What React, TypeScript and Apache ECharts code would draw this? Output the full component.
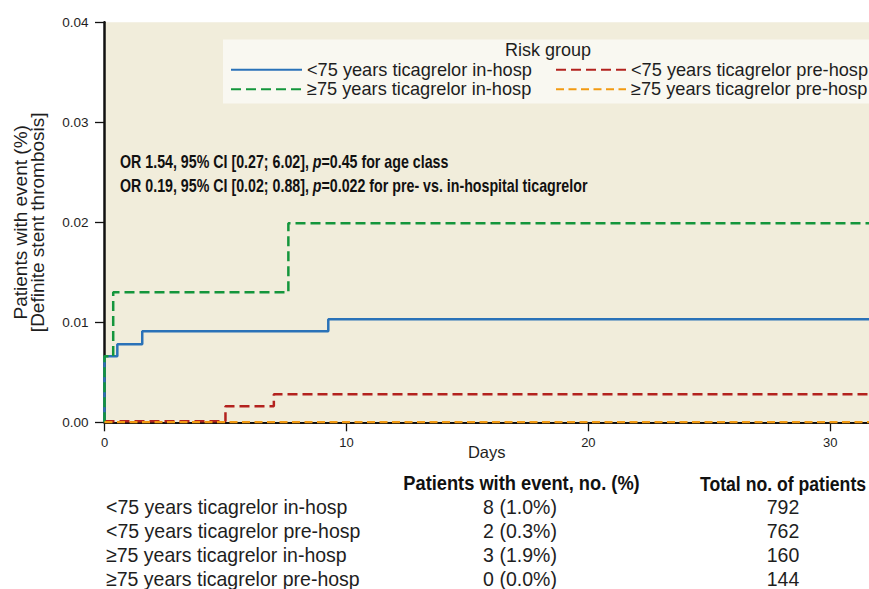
import React, { useEffect, useRef } from "react";
import * as echarts from "echarts";

const SANS = '"Liberation Sans", Arial, sans-serif';

const SERIES_NAMES = [
  "<75 years ticagrelor in-hosp",
  "<75 years ticagrelor pre-hosp",
  "≥75 years ticagrelor in-hosp",
  "≥75 years ticagrelor pre-hosp",
];
const SERIES_COLORS = ["#2a72b8", "#b3221e", "#14963c", "#f29a12"];

// Kaplan–Meier step points (days, cumulative incidence)
const BLUE_DAYS = [0, 0, 0.53, 1.56, 9.25, 31.6];
const BLUE_VALS = [0, 0.0066, 0.0078, 0.0091, 0.0103, 0.0103];
const RED_DAYS = [0, 5.0, 7.0, 31.6];
const RED_VALS = [0.0001, 0.0016, 0.0028, 0.0028];
const GREEN_DAYS = [0, 0, 0.36, 7.6, 31.6];
const GREEN_VALS = [0, 0.0066, 0.013, 0.0199, 0.0199];
const ORANGE_DAYS = [0, 31.6];
const ORANGE_VALS = [0, 0];

const X_TICKS = [0, 10, 20, 30];
const Y_TICKS = [0, 0.01, 0.02, 0.03, 0.04];

const ANNOT_1 = ["OR 1.54, 95% CI [0.27; 6.02], ", "p", "=0.45 for age class"];
const ANNOT_2 = ["OR 0.19, 95% CI [0.02; 0.88], ", "p", "=0.022 for pre- vs. in-hospital ticagrelor"];

const TABLE_HEAD = ["Patients with event, no. (%)", "Total no. of patients"];
const TABLE_EVENTS = ["8 (1.0%)", "2 (0.3%)", "3 (1.9%)", "0 (0.0%)"];
const TABLE_TOTALS = ["792", "762", "160", "144"];

function zip(xs: number[], ys: number[]) {
  return xs.map((x, i) => [x, ys[i]]);
}

export default function App() {
  const ref = useRef<HTMLDivElement>(null);
  useEffect(() => {
    if (!ref.current) return;
    const chart = echarts.init(ref.current, undefined, { renderer: "svg" });
    const datas = [
      zip(BLUE_DAYS, BLUE_VALS),
      zip(RED_DAYS, RED_VALS),
      zip(GREEN_DAYS, GREEN_VALS),
      zip(ORANGE_DAYS, ORANGE_VALS),
    ];
    const dashes: any[] = ["solid", [10, 5], [10, 5], [8, 4.5]];
    const order = [2, 0, 1, 3];
    const series = order.map((i) => ({
      name: SERIES_NAMES[i],
      type: "line",
      step: "end",
      data: datas[i],
      symbol: "none",
      z: 3 + i,
      lineStyle: { color: SERIES_COLORS[i], width: 2.5, type: dashes[i] },
      itemStyle: { color: SERIES_COLORS[i] },
    }));

    const TXT = "#1e1e1e";
    const graphics: any[] = [
      {
        type: "rect",
        shape: { x: 223, y: 39.5, width: 660, height: 64 },
        style: { fill: "#f9f8f1" },
        z: 1,
      },
      {
        type: "text",
        x: 548,
        y: 50,
        z: 10,
        style: { text: "Risk group", font: `18px ${SANS}`, fill: TXT, align: "center", verticalAlign: "middle" },
      },
    ];
    const mkRich = (parts: string[], y: number) => ({
      type: "text",
      x: 120,
      y,
      z: 10,
      scaleX: 0.79,
      style: {
        text: `{b|${parts[0]}}{i|${parts[1]}}{b|${parts[2]}}`,
        verticalAlign: "middle",
        rich: {
          b: { fontFamily: SANS, fontWeight: "bold", fontSize: 18, fill: "#111" },
          i: { fontFamily: SANS, fontWeight: "bold", fontStyle: "italic", fontSize: 18, fill: "#111" },
        },
      },
    });
    graphics.push(mkRich(ANNOT_1, 161.5), mkRich(ANNOT_2, 185.5));
    graphics.push(
      {
        type: "text",
        x: 521.5,
        y: 483,
        scaleX: 0.87,
        style: { text: TABLE_HEAD[0], font: `bold 21px ${SANS}`, fill: "#111", align: "center", verticalAlign: "middle" },
      },
      {
        type: "text",
        x: 783,
        y: 483,
        scaleX: 0.84,
        style: { text: TABLE_HEAD[1], font: `bold 21px ${SANS}`, fill: "#111", align: "center", verticalAlign: "middle" },
      }
    );
    SERIES_NAMES.forEach((n, i) => {
      const y = 507 + i * 23.8;
      graphics.push(
        { type: "text", x: 106, y, scaleX: 0.93, style: { text: n, font: `21px ${SANS}`, fill: TXT, verticalAlign: "middle" } },
        { type: "text", x: 520, y, scaleX: 0.93, style: { text: TABLE_EVENTS[i], font: `21px ${SANS}`, fill: TXT, align: "center", verticalAlign: "middle" } },
        { type: "text", x: 783, y, scaleX: 0.93, style: { text: TABLE_TOTALS[i], font: `21px ${SANS}`, fill: TXT, align: "center", verticalAlign: "middle" } }
      );
    });

    const legendCommon = {
      orient: "vertical",
      top: 60,
      itemHeight: 14,
      itemGap: 0,
      padding: 0,
      itemStyle: { opacity: 0 },
      textStyle: { fontFamily: SANS, fontSize: 18.2, color: TXT, lineHeight: 19.5 },
      z: 10,
    };

    chart.setOption({
      animation: false,
      backgroundColor: "#ffffff",
      grid: {
        left: 104.5,
        top: 22.3,
        right: 0,
        bottom: 166.7,
        show: true,
        backgroundColor: "#f1eddb",
        borderWidth: 0,
        containLabel: false,
        outerBoundsMode: "none",
      },
      legend: [
        { ...legendCommon, left: 230, itemWidth: 71, data: [SERIES_NAMES[0], SERIES_NAMES[2]] },
        { ...legendCommon, left: 555, itemWidth: 70, data: [SERIES_NAMES[1], SERIES_NAMES[3]] },
      ],
      xAxis: {
        type: "value",
        min: 0,
        max: 31.6,
        interval: 10,
        name: "Days",
        nameLocation: "middle",
        nameGap: 21,
        nameMoveOverlap: false,
        nameTextStyle: { fontFamily: SANS, fontSize: 16.5, color: TXT },
        axisLine: { lineStyle: { color: "#111", width: 2 } },
        axisTick: { length: 9, lineStyle: { color: "#111", width: 1.3 }, customValues: X_TICKS },
        axisLabel: { fontFamily: SANS, fontSize: 13, color: TXT, margin: 14, customValues: X_TICKS },
        splitLine: { show: false },
      },
      yAxis: {
        type: "value",
        min: 0,
        max: 0.04,
        interval: 0.01,
        name: "Patients with event (%)\n[Definite stent thrombosis]",
        nameLocation: "middle",
        nameRotate: 90,
        nameGap: 58.5,
        nameMoveOverlap: false,
        nameTextStyle: { fontFamily: SANS, fontSize: 19, color: TXT, lineHeight: 17 },
        axisLine: { show: true, lineStyle: { color: "#111", width: 2.5 } },
        axisTick: { show: true, length: 9.5, lineStyle: { color: "#111", width: 1.3 }, customValues: Y_TICKS },
        axisLabel: {
          fontFamily: SANS,
          fontSize: 13.5,
          color: TXT,
          margin: 16,
          customValues: Y_TICKS,
          formatter: (v: number) => v.toFixed(2),
        },
        splitLine: { show: false },
      },
      graphic: graphics,
      series,
    });
    return () => chart.dispose();
  }, []);
  return <div ref={ref} style={{ position: "fixed", left: 0, top: 0, width: 869, height: 589 }} />;
}
